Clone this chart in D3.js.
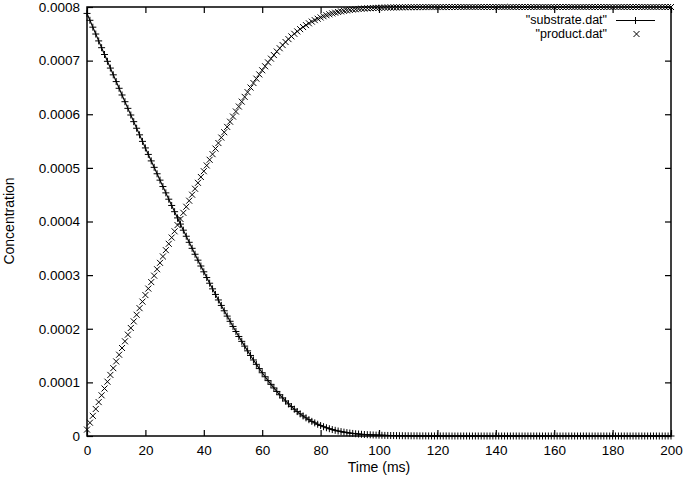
<!DOCTYPE html>
<html><head><meta charset="utf-8">
<script src="https://cdn.jsdelivr.net/npm/d3@7"></script>
<style>html,body{margin:0;padding:0;background:#fff}svg{display:block}</style>
</head><body><svg id="c" width="685" height="478"></svg>
<script>
const UNIT = 1e-6;
const times = [
0,1,2,3,4,5,6,7,8,9,10,11,12,13,14,15,16,17,18,19,
20,21,22,23,24,25,26,27,28,29,30,31,32,33,34,35,36,37,38,39,
40,41,42,43,44,45,46,47,48,49,50,51,52,53,54,55,56,57,58,59,
60,61,62,63,64,65,66,67,68,69,70,71,72,73,74,75,76,77,78,79,
80,81,82,83,84,85,86,87,88,89,90,91,92,93,94,95,96,97,98,99,
100,101,102,103,104,105,106,107,108,109,110,111,112,113,114,115,116,117,118,119,
120,121,122,123,124,125,126,127,128,129,130,131,132,133,134,135,136,137,138,139,
140,141,142,143,144,145,146,147,148,149,150,151,152,153,154,155,156,157,158,159,
160,161,162,163,164,165,166,167,168,169,170,171,172,173,174,175,176,177,178,179,
180,181,182,183,184,185,186,187,188,189,190,191,192,193,194,195,196,197,198,199,
200];
// substrate concentration, in units of 1e-6
const substrate = [
788.0,775.2,762.4,749.6,736.8,724.1,711.4,698.7,686.1,673.5,
660.9,648.4,635.9,623.4,611.0,598.6,586.2,573.9,561.6,549.4,
537.2,525.1,513.0,501.0,489.0,477.1,465.2,453.4,441.6,429.9,
418.3,406.7,395.2,383.8,372.5,361.2,350.0,338.9,327.9,317.0,
306.2,295.5,284.9,274.4,264.0,253.7,243.5,233.5,223.6,213.9,
204.3,194.9,185.6,176.5,167.6,158.8,150.2,141.8,133.6,125.7,
118.0,110.5,103.3,96.3,89.6,83.1,76.9,71.0,65.3,59.9,
54.8,50.0,45.5,41.3,37.4,33.8,30.4,27.3,24.5,21.9,
19.5,17.3,15.4,13.6,12.0,10.6,9.3,8.2,7.2,6.3,
5.5,4.8,4.2,3.7,3.2,2.8,2.5,2.2,1.9,1.7,
1.5,1.3,1.1,1.0,0.9,0.8,0.7,0.6,0.5,0.4,
0.4,0.3,0.3,0.3,0.2,0.2,0.2,0.1,0.1,0.1,
0.1,0.1,0.1,0.1,0.1,0,0,0,0,0,
0,0,0,0,0,0,0,0,0,0,
0,0,0,0,0,0,0,0,0,0,
0,0,0,0,0,0,0,0,0,0,
0,0,0,0,0,0,0,0,0,0,
0,0,0,0,0,0,0,0,0,0,
0,0,0,0,0,0,0,0,0,0,
0,0,0,0,0,0,0,0,0,0,
0];
// product concentration, in units of 1e-6
const product = [
12.0,24.8,37.6,50.4,63.2,75.9,88.6,101.3,113.9,126.5,
139.1,151.6,164.1,176.6,189.0,201.4,213.8,226.1,238.4,250.6,
262.8,274.9,287.0,299.0,311.0,322.9,334.8,346.6,358.4,370.1,
381.7,393.3,404.8,416.2,427.5,438.8,450.0,461.1,472.1,483.0,
493.8,504.5,515.1,525.6,536.0,546.3,556.5,566.5,576.4,586.1,
595.7,605.1,614.4,623.5,632.4,641.2,649.8,658.2,666.4,674.3,
682.0,689.5,696.7,703.7,710.4,716.9,723.1,729.0,734.7,740.1,
745.2,750.0,754.5,758.7,762.6,766.2,769.6,772.7,775.5,778.1,
780.5,782.7,784.6,786.4,788.0,789.4,790.7,791.8,792.8,793.7,
794.5,795.2,795.8,796.3,796.8,797.2,797.5,797.8,798.1,798.3,
798.5,798.7,798.9,799.0,799.1,799.2,799.3,799.4,799.5,799.6,
799.6,799.7,799.7,799.7,799.8,799.8,799.8,799.9,799.9,799.9,
799.9,799.9,799.9,799.9,799.9,800,800,800,800,800,
800,800,800,800,800,800,800,800,800,800,
800,800,800,800,800,800,800,800,800,800,
800,800,800,800,800,800,800,800,800,800,
800,800,800,800,800,800,800,800,800,800,
800,800,800,800,800,800,800,800,800,800,
800,800,800,800,800,800,800,800,800,800,
800,800,800,800,800,800,800,800,800,800,
800];
const xTicks = [0,20,40,60,80,100,120,140,160,180,200];
const yTicks = [0,0.0001,0.0002,0.0003,0.0004,0.0005,0.0006,0.0007,0.0008];
const yTickLabels = ["0","0.0001","0.0002","0.0003","0.0004","0.0005","0.0006","0.0007","0.0008"];
const xLabel = "Time (ms)";
const yLabel = "Concentration";
const seriesNames = ['"substrate.dat"', '"product.dat"'];

const FONT = "'Liberation Sans', Arial, Helvetica, sans-serif";
const svg = d3.select("#c");
const L = 87, R = 671, T = 7, B = 436;
const x = d3.scaleLinear().domain([0, 200]).range([L, R]);
const y = d3.scaleLinear().domain([0, 0.0008]).range([B, T]);

const subData = times.map((t, i) => [t, substrate[i] * UNIT]);
const proData = times.map((t, i) => [t, product[i] * UNIT]);

// axes (ticks inward, mirrored)
const ax = svg.append("g").attr("font-family", FONT);
const gB = ax.append("g").attr("transform", `translate(0,${B})`)
  .call(d3.axisBottom(x).tickValues(xTicks).tickSize(-6).tickPadding(9).tickFormat(d3.format("d")));
const gT = ax.append("g").attr("transform", `translate(0,${T})`)
  .call(d3.axisTop(x).tickValues(xTicks).tickSize(-6).tickFormat(""));
const gL = ax.append("g").attr("transform", `translate(${L},0)`)
  .call(d3.axisLeft(y).tickValues(yTicks).tickSize(-6).tickPadding(7).tickFormat((d, i) => yTickLabels[i]));
const gR = ax.append("g").attr("transform", `translate(${R},0)`)
  .call(d3.axisRight(y).tickValues(yTicks).tickSize(-6).tickFormat(""));
[gB, gT, gL, gR].forEach(g => {
  g.select(".domain").remove();
  g.selectAll(".tick line").attr("stroke", "#000").attr("stroke-width", 1.2);
  g.selectAll("text").attr("font-size", 13.5).attr("fill", "#000").attr("font-family", FONT);
});

// data
const plus = "M-3.5,0H3.5M0,-3.5V3.5";
const cross = "M-3,-3L3,3M-3,3L3,-3";
svg.append("path").datum(subData)
  .attr("fill", "none").attr("stroke", "#000").attr("stroke-width", 1.1)
  .attr("d", d3.line().x(d => x(d[0])).y(d => y(d[1])));
svg.append("g").selectAll("path").data(subData).join("path")
  .attr("transform", d => `translate(${x(d[0])},${y(d[1])})`)
  .attr("d", plus).attr("stroke", "#000").attr("stroke-width", 1).attr("fill", "none");
svg.append("g").selectAll("path").data(proData).join("path")
  .attr("transform", d => `translate(${x(d[0])},${y(d[1])})`)
  .attr("d", cross).attr("stroke", "#000").attr("stroke-width", 1).attr("fill", "none");

// border
svg.append("rect").attr("x", L).attr("y", T).attr("width", R - L).attr("height", B - T)
  .attr("fill", "none").attr("stroke", "#000").attr("stroke-width", 1.5);

// axis labels
svg.append("text").attr("x", (L + R) / 2).attr("y", 472).attr("text-anchor", "middle")
  .attr("font-family", FONT).attr("font-size", 14).text(xLabel);
svg.append("text").attr("transform", "translate(13.5,221) rotate(-90)").attr("text-anchor", "middle")
  .attr("font-family", FONT).attr("font-size", 14).text(yLabel);

// legend
const lg = svg.append("g").attr("font-family", FONT).attr("font-size", 12.5);
lg.append("text").attr("x", 607).attr("y", 19.5).attr("dy", "0.35em").attr("text-anchor", "end").text(seriesNames[0]);
lg.append("text").attr("x", 607).attr("y", 34).attr("dy", "0.35em").attr("text-anchor", "end").text(seriesNames[1]);
lg.append("line").attr("x1", 616).attr("x2", 655).attr("y1", 20.5).attr("y2", 20.5).attr("stroke", "#000").attr("stroke-width", 1.1);
lg.append("path").attr("transform", "translate(635.5,20.5)").attr("d", plus).attr("stroke", "#000").attr("fill", "none");
lg.append("path").attr("transform", "translate(636.5,34)").attr("d", cross).attr("stroke", "#000").attr("fill", "none");
</script></body></html>
